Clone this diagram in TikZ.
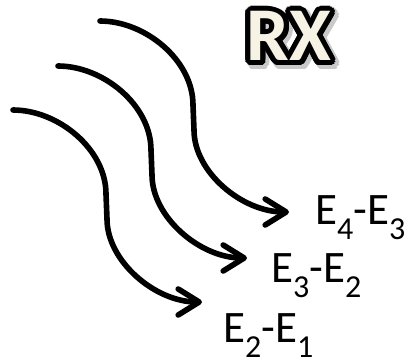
\documentclass[tikz,border=0pt]{standalone}
\usepackage{fontspec}
\setmainfont{Carlito}
\usetikzlibrary{arrows.meta}
\definecolor{cream}{RGB}{246,243,229}
\newcommand\mysub[1]{\raisebox{-14.4pt}{\fontsize{32}{32}\selectfont #1}}
\begin{document}
\begin{tikzpicture}[x=1pt,y=-1pt,
  wave/.style={line width=5.6pt, line cap=round, -{Straight Barb[length=21pt,width=26pt,round]}},
  lbl/.style={anchor=base west, inner sep=0pt, font=\fontsize{45}{45}\selectfont},
  rx/.style={inner sep=0pt, anchor=base, font=\bfseries\fontsize{76}{76}\selectfont}]
\useasboundingbox (0,0) rectangle (405,358);
% title with outline and shadow
\begin{scope}[transparency group, opacity=0.3]
  \foreach \a in {0,15,...,345}
    \node[rx, text=black!70, shift={(\a:6)}] at (292,64) {RX};
\end{scope}
\foreach \a in {0,15,...,345}
  \node[rx, text=black, shift={(\a:5)}] at (289,61) {RX};
\node[rx, text=cream] (rx) at (289,61) {RX};
% waves
\coordinate (s1) at (100,21);  \coordinate (t1) at (289,212);
\coordinate (s2) at (58,66);   \coordinate (t2) at (247,258);
\coordinate (s3) at (13,110);  \coordinate (t3) at (202,302);
\foreach \i in {1,2,3}
  \draw[wave] (s\i) .. controls +(45,0) and +(0,-45) .. ++(93,84) -- ++(1,25)
     .. controls +(0,42) and +(-47,0) .. (t\i);
% labels
\node[lbl] (l1) at (315,225) {E\mysub{4}-E\mysub{3}};
\node[lbl] (l2) at (271,283) {E\mysub{3}-E\mysub{2}};
\node[lbl] (l3) at (223,343) {E\mysub{2}-E\mysub{1}};
\end{tikzpicture}
\end{document}
